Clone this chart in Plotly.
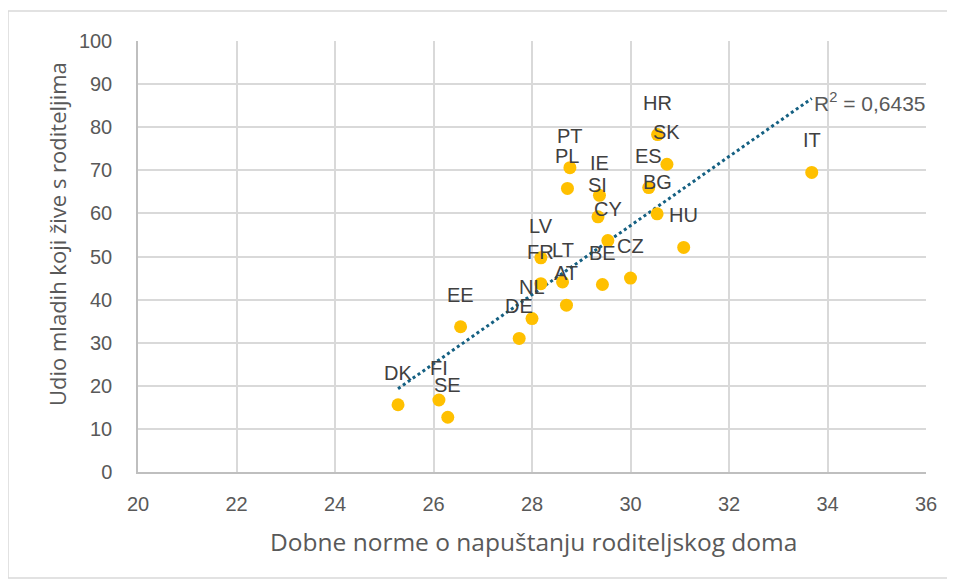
import numpy as np
import plotly.graph_objects as go

# ---- data ----
countries = ["HR", "SK", "PT", "PL", "IE", "ES", "SI", "BG", "CY", "HU", "LV", "CZ",
             "FR", "LT", "BE", "AT", "NL", "DE", "EE", "DK", "FI", "SE", "IT"]
norm_age = [30.55, 30.74, 28.77, 28.72, 29.37, 30.37, 29.34, 30.54, 29.54, 31.08, 28.18, 30.00,
            28.18, 28.62, 29.43, 28.70, 28.00, 27.74, 26.55, 25.28, 26.11, 26.29, 33.68]
share_with_parents = [78.3, 71.4, 70.6, 65.8, 64.2, 66.0, 59.2, 59.9, 53.7, 52.1, 49.7, 45.0,
                      43.7, 44.1, 43.5, 38.7, 35.6, 31.0, 33.7, 15.6, 16.7, 12.7, 69.5]
x_ticks = [20, 22, 24, 26, 28, 30, 32, 34, 36]
y_ticks = [0, 10, 20, 30, 40, 50, 60, 70, 80, 90, 100]
r2_text = "R<sup>2</sup> = 0,6435"
x_title = "Dobne norme o napuštanju roditeljskog doma"
y_title = "Udio mladih koji žive s roditeljima"

# linear trendline (least squares) over the data range
xa = np.array(norm_age)
ya = np.array(share_with_parents)
slope, intercept = np.polyfit(xa, ya, 1)
tx = [xa.min(), xa.max()]
ty = [slope * v + intercept for v in tx]

GRID = "#d9d9d9"
AXIS = "#bfbfbf"
TXT = "#595959"

fig = go.Figure()
fig.add_trace(go.Scatter(x=tx, y=ty, mode="lines",
                         line=dict(color="#156082", width=3, dash="dot"),
                         hoverinfo="skip", showlegend=False))
fig.add_trace(go.Scatter(x=norm_age, y=share_with_parents, mode="markers",
                         marker=dict(color="#FFC000", size=13, line=dict(width=0)),
                         text=countries, showlegend=False))

annotations = []
for c, xv, yv in zip(countries, norm_age, share_with_parents):
    annotations.append(dict(x=xv, y=yv, xref="x", yref="y", text=c, showarrow=False,
                            yshift=32, font=dict(family="Liberation Sans", size=20, color="#404040")))
annotations.append(dict(x=tx[1], y=ty[1], xref="x", yref="y", text=r2_text, showarrow=False,
                        xanchor="left", yanchor="middle", xshift=0, yshift=-3,
                        font=dict(family="Liberation Sans", size=21, color=TXT)))

# page body has an 8px margin; positions below are in page pixels minus that offset
OFF = 8
L, R, T, B = 138 - OFF, 29, 41 - OFF, 109
W, H = 955 - OFF, 581 - OFF
pw, ph = W - L - R, H - T - B


def px_to_paper_x(px):
    return (px - OFF - L) / pw


def px_to_paper_y(py):
    return (H - B - (py - OFF)) / ph


annotations.append(dict(x=px_to_paper_x(533), y=px_to_paper_y(541), xref="paper", yref="paper",
                        text=x_title, showarrow=False, xanchor="center", yanchor="middle",
                        font=dict(family="Open Sans", size=24.5, color=TXT)))
annotations.append(dict(x=px_to_paper_x(57), y=px_to_paper_y(234), xref="paper", yref="paper",
                        text=y_title, showarrow=False, textangle=-90, xanchor="center", yanchor="middle",
                        font=dict(family="Open Sans", size=22, color=TXT)))

fig.update_layout(
    width=W, height=H,
    margin=dict(l=L, r=R, t=T, b=B),
    paper_bgcolor="white", plot_bgcolor="white",
    annotations=annotations,
    shapes=[dict(type="rect", xref="paper", yref="paper",
                 x0=px_to_paper_x(8), x1=px_to_paper_x(948),
                 y0=px_to_paper_y(578), y1=px_to_paper_y(11),
                 line=dict(color=GRID, width=1.5), fillcolor="rgba(0,0,0,0)", layer="below")],
    xaxis=dict(range=[20, 36], tickvals=x_ticks, showgrid=True, gridcolor=GRID, gridwidth=1.5,
               showline=True, linecolor=AXIS, linewidth=1.5, zeroline=False,
               ticks="", ticklabelstandoff=13,
               tickfont=dict(family="Liberation Sans", size=20, color=TXT)),
    yaxis=dict(range=[0, 100], tickvals=y_ticks, showgrid=True, gridcolor=GRID, gridwidth=1.5,
               showline=True, linecolor=AXIS, linewidth=1.5, zeroline=False,
               ticks="", ticklabelstandoff=20,
               tickfont=dict(family="Liberation Sans", size=20, color=TXT)),
)

fig.write_html("out.html")
